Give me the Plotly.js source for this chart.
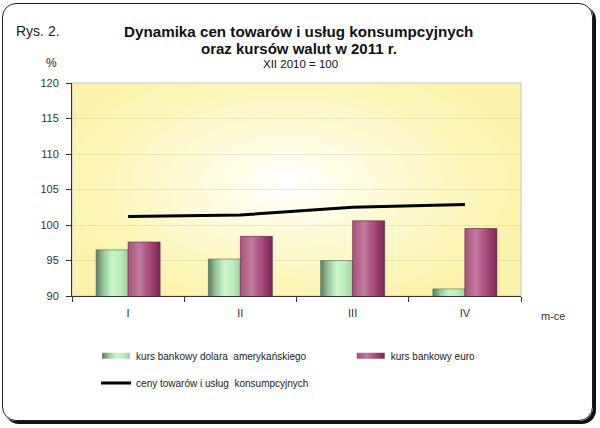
<!DOCTYPE html>
<html><head><meta charset="utf-8">
<script src="https://cdn.plot.ly/plotly-3.0.1.min.js"></script>
<style>
html,body{margin:0;padding:0;background:#fff;}
#wrap{position:relative;width:600px;height:428px;overflow:hidden;background:#fff;}
#frame{position:absolute;left:2px;top:3px;width:591px;height:418px;border:1.5px solid #222;border-radius:14px;box-shadow:3px 3px 0 #111;box-sizing:border-box;}
#bg{position:absolute;left:72px;top:83px;width:449px;height:213px;background:radial-gradient(ellipse 55% 62% at 48% 47%, #ffffff 0%, #fffde9 22%, #fdf8c4 62%, #fbf3ab 100%);}
#chart{position:absolute;left:0;top:0;width:600px;height:428px;}
</style></head>
<body><div id="wrap"><div id="frame"></div><div id="bg"></div><div id="chart"></div></div>
<script>
const months = ['I','II','III','IV'];
const usd = [96.5, 95.2, 95.0, 91.0];
const eur = [97.6, 98.4, 100.6, 99.5];
const cpi = [101.2, 101.4, 102.5, 102.9];
const yTicks = [90, 95, 100, 105, 110, 115, 120];

const F = 'Liberation Sans, Arial, sans-serif';
const traces = [
  {type:'bar', x:months, y:usd, name:'kurs bankowy dolara  amerykańskiego', legend:'legend',
   marker:{color:'#a9dcae', line:{color:'#4f6f55', width:0.6}}, hoverinfo:'skip'},
  {type:'bar', x:months, y:eur, name:'kurs bankowy euro', legend:'legend2',
   marker:{color:'#a9487a', line:{color:'#6a1d45', width:0.6}}, hoverinfo:'skip'},
  {type:'scatter', mode:'lines', x:months, y:cpi, name:'ceny towarów i usług  konsumpcyjnych', legend:'legend3',
   line:{color:'#000', width:3}, hoverinfo:'skip'}
];

function leg(x, y){
  return {orientation:'v', x:x, xanchor:'left', y:y, yanchor:'top',
          font:{family:F, size:10, color:'#222'}, bgcolor:'rgba(0,0,0,0)', itemwidth:30, borderwidth:0};
}

const layout = {
  width:600, height:428,
  margin:{l:72, r:79, t:83, b:132},
  paper_bgcolor:'rgba(0,0,0,0)', plot_bgcolor:'rgba(0,0,0,0)',
  font:{family:F, size:11, color:'#333'},
  barmode:'group', bargap:0.43, bargroupgap:0,
  showlegend:true,
  legend:leg(0.0536, -0.2122),
  legend2:leg(0.6207, -0.2122),
  legend3:leg(0.0536, -0.3408),
  xaxis:{type:'category', showline:true, linecolor:'#333', linewidth:1, ticks:'outside', ticklen:5,
         tickcolor:'#333', tickson:'boundaries', showgrid:false, tickfont:{family:F,size:11,color:'#333'},
         ticklabelstandoff:7, fixedrange:true},
  yaxis:{range:[90,120], tickvals:yTicks, showline:true, linecolor:'#333', linewidth:1,
         ticks:'outside', ticklen:5, tickcolor:'#333', showgrid:true, gridcolor:'rgba(190,185,140,0.3)',
         zeroline:false, tickfont:{family:F,size:11,color:'#333'}, ticklabelstandoff:5, fixedrange:true},
  shapes:[{type:'rect', xref:'paper', yref:'paper', x0:0, x1:1, y0:0, y1:1, line:{color:'#c4c4c4', width:1}, layer:'below'}],
  annotations:[
    {text:'Rys. 2.', xref:'paper', yref:'paper', x:-0.127, y:1.246, xanchor:'left', yanchor:'middle', showarrow:false, borderpad:0, font:{family:F,size:14,color:'#222'}},
    {text:'<b>Dynamika cen towarów i usług konsumpcyjnych</b>', xref:'paper', yref:'paper', x:0.505, y:1.243, xanchor:'center', yanchor:'middle', showarrow:false, borderpad:0, font:{family:F,size:15.2,color:'#111'}},
    {text:'<b>oraz kursów walut w 2011 r.</b>', xref:'paper', yref:'paper', x:0.505, y:1.164, xanchor:'center', yanchor:'middle', showarrow:false, borderpad:0, font:{family:F,size:15,color:'#111'}},
    {text:'XII 2010 = 100', xref:'paper', yref:'paper', x:0.51, y:1.087, xanchor:'center', yanchor:'middle', showarrow:false, borderpad:0, font:{family:F,size:11.5,color:'#111'}},
    {text:'%', xref:'paper', yref:'paper', x:-0.045, y:1.093, xanchor:'center', yanchor:'middle', showarrow:false, borderpad:0, font:{family:F,size:12,color:'#222'}},
    {text:'m-ce', xref:'paper', yref:'paper', x:1.0, xshift:32, y:-0.095, xanchor:'center', yanchor:'middle', showarrow:false, font:{family:F,size:11,color:'#333'}}
  ]
};

function applyGradients(gd){
  const svg = gd.querySelector('svg.main-svg');
  if(!svg) return;
  const ns='http://www.w3.org/2000/svg';
  let defs = svg.querySelector('defs');
  if(!defs){defs=document.createElementNS(ns,'defs');svg.insertBefore(defs,svg.firstChild);}
  function grad(id, stops){
    if(svg.querySelector('#'+id)) return;
    const g=document.createElementNS(ns,'linearGradient');
    g.setAttribute('id',id);g.setAttribute('x1','0');g.setAttribute('x2','1');g.setAttribute('y1','0');g.setAttribute('y2','0');
    stops.forEach(s=>{const st=document.createElementNS(ns,'stop');st.setAttribute('offset',s[0]);st.setAttribute('stop-color',s[1]);g.appendChild(st);});
    defs.appendChild(g);
  }
  grad('gGreen',[['0','#5e7d63'],['0.25','#9bc9a0'],['0.5','#c8f5ca'],['0.75','#bdeebf'],['1','#9fd0a3']]);
  grad('gPurple',[['0','#a8517f'],['0.35','#c07a9c'],['0.65','#a94f7d'],['1','#7c2452']]);
  const ids=['gGreen','gPurple'];
  svg.querySelectorAll('.barlayer .trace').forEach((tg,i)=>{
    tg.querySelectorAll('path').forEach(p=>{p.style.fill='url(#'+ids[i]+')';});
  });
  ['legend','legend2'].forEach((cls,i)=>{
    gd.querySelectorAll('g.'+cls+' .legendpoints path').forEach(p=>{
      p.setAttribute('d','M14,3H-14V-3H14Z');
      p.style.fill='url(#'+ids[i]+')';
      p.style.stroke='none';
    });
  });
}

Plotly.newPlot('chart', traces, layout, {staticPlot:true, displayModeBar:false}).then(gd=>{
  applyGradients(gd);
  gd.on('plotly_afterplot', ()=>applyGradients(gd));
});
</script></body></html>
